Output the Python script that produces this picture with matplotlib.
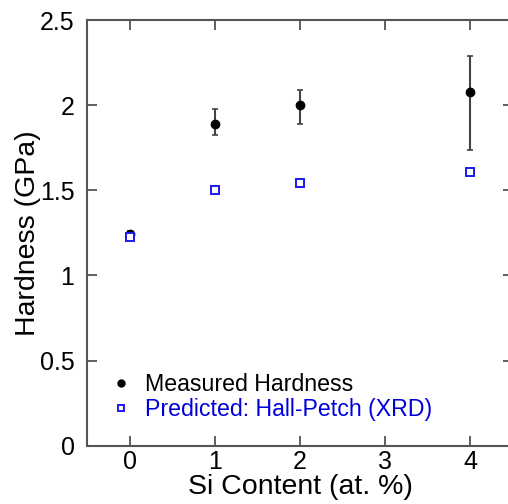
import matplotlib
matplotlib.use("Agg")
import matplotlib.pyplot as plt
import numpy as np

plt.rcParams['font.family'] = ['Liberation Sans', 'DejaVu Sans']

si_content = [0, 1, 2, 4]
measured = [1.245, 1.887, 2.0, 2.075]
measured_err_low = [0.015, 0.06, 0.11, 0.34]
measured_err_high = [0.015, 0.09, 0.09, 0.215]
predicted = [1.227, 1.50, 1.541, 1.605]
xticks = [0, 1, 2, 3, 4]
yticks = [0, 0.5, 1, 1.5, 2, 2.5]
yticklabels = ['0', '0.5', '1', '1.5', '2', '2.5']

fig = plt.figure(figsize=(5.08, 5.04), dpi=100)
ax = fig.add_axes([87/508, 1-445.7/504, 426/508, 425.7/504])

ax.errorbar(si_content, measured, yerr=[measured_err_low, measured_err_high],
            fmt='none', ecolor='#444444', elinewidth=1.5, capsize=2.3, capthick=1.2, zorder=2)
h1, = ax.plot(si_content, measured, 'o', color='black', markersize=6, zorder=3,
              label='Measured Hardness', linestyle='none')
h2, = ax.plot(si_content, predicted, 's', markerfacecolor='white', markeredgecolor='#1a1aee',
              markeredgewidth=1.4, markersize=5.5, zorder=3, linestyle='none',
              label='Predicted: Hall-Petch (XRD)')

ax.set_xlim(-0.5, 4.5)
ax.set_ylim(0, 2.5)
ax.set_xticks(xticks)
ax.set_yticks(yticks)
ax.set_yticklabels(yticklabels)
ax.tick_params(direction='in', length=7, width=1.2, color='#444444', labelsize=18,
               top=True, right=True, pad=3)
ax.tick_params(axis='y', pad=9)
for s in ax.spines.values():
    s.set_color('#555555')
    s.set_linewidth(1.5)

ax.set_xlabel('Si Content (at. %)', fontsize=20.5, labelpad=0)
ax.set_ylabel('Hardness (GPa)', fontsize=20.5, labelpad=-1)

leg = ax.legend(handles=[h1, h2], loc='lower left', bbox_to_anchor=(0.037, 0.037),
                frameon=False, fontsize=16.7, handlelength=0.8, handletextpad=0.6,
                labelspacing=0.08, borderaxespad=0)
leg.get_texts()[1].set_color('#0000dd')
for h in leg.legend_handles:
    h.set_markersize(5)

fig.savefig('out.png', dpi=100)
